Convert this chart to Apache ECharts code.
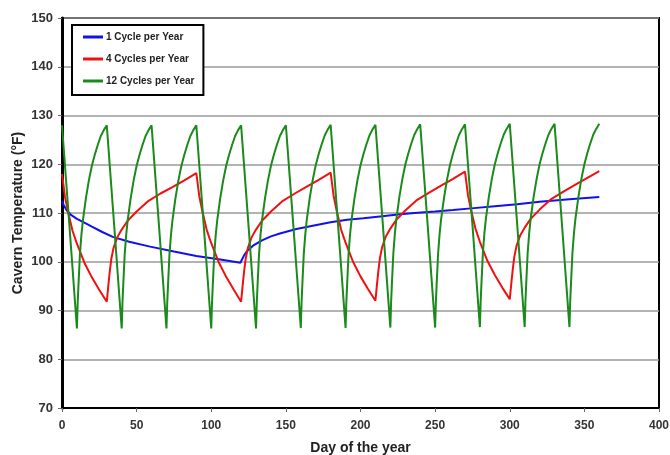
<!DOCTYPE html>
<html>
<head>
<meta charset="utf-8">
<script src="https://cdn.jsdelivr.net/npm/echarts@6/dist/echarts.min.js"></script>
<style>
  html, body { margin: 0; padding: 0; background: #fff; }
  #chart { width: 670px; height: 455px; }
</style>
</head>
<body>
<div id="chart"></div>
<script>
// series names as in the legend
const seriesNames = ['1 Cycle per Year', '4 Cycles per Year', '12 Cycles per Year']

// [day, temperature °F]
const oneCycle = [
  [0, 112.5], [1, 111.7], [3, 110.6], [6, 109.6], [10, 108.8], [14, 108.2],
  [20, 107.2], [27, 106.1], [34, 105.1], [45, 104.1], [59, 103.1], [75, 102.1],
  [90, 101.2], [105, 100.5], [119.5, 99.8], [120.5, 100.1], [122, 101.3],
  [124, 102.2], [128, 103.3], [134, 104.4], [140, 105.2], [146, 105.8],
  [157, 106.7], [168, 107.4], [180, 108.1], [191, 108.6], [202, 108.9],
  [213, 109.3], [225, 109.7], [236, 110.0], [250, 110.3], [262, 110.6],
  [276, 111.0], [290, 111.4], [305, 111.8], [320, 112.3], [340, 112.8], [360, 113.3]
]

const fourCycles = [
  [0, 118], [2, 113.3], [4, 110.3], [7, 106.4], [10, 103.7], [15, 99.8], [20, 96.8], [25, 94.2], [30, 91.8],
  [31, 95], [32, 98], [33, 100.5], [34.5, 102.8], [37, 105], [40, 106.6], [44, 108.4], [50, 110.3],
  [58, 112.5], [66, 114], [74, 115.3], [82, 116.7],
  [90, 118.2], [92, 113.4], [94, 110.4], [97, 106.5], [100, 103.8], [105, 99.9], [110, 96.9], [115, 94.3], [120, 91.8],
  [121, 95], [122, 98], [123, 100.5], [124.5, 102.8], [127, 105], [130, 106.6], [134, 108.4], [140, 110.3],
  [148, 112.5], [156, 114], [164, 115.4], [172, 116.8],
  [180, 118.3], [182, 113.5], [184, 110.5], [187, 106.6], [190, 103.9], [195, 100], [200, 97], [205, 94.4], [210, 92],
  [211, 95.2], [212, 98.2], [213, 100.7], [214.5, 103], [217, 105.2], [220, 106.8], [224, 108.6], [230, 110.5],
  [238, 112.7], [246, 114.2], [254, 115.6], [262, 117],
  [270, 118.5], [272, 113.7], [274, 110.7], [277, 106.8], [280, 104.1], [285, 100.2], [290, 97.3], [295, 94.7], [300, 92.3],
  [301, 95.4], [302, 98.4], [303, 100.9], [304.5, 103.2], [307, 105.4], [310, 107], [314, 108.8], [320, 110.7],
  [328, 112.9], [336, 114.4], [344, 115.8], [352, 117.2], [360, 118.6]
]

const twelveCycles = [
  [0, 128], [5, 107.3], [10, 86.3], [10.5, 91.5], [11, 95], [12, 101.5], [13, 105.5], [14, 108.5], [16, 113], [18, 116.7], [20, 119.7], [22, 122], [24, 124], [26, 125.8], [28, 127],
  [30, 128], [35, 107.3], [40, 86.3], [40.5, 91.5], [41, 95], [42, 101.5], [43, 105.5], [44, 108.5], [46, 113], [48, 116.7], [50, 119.7], [52, 122], [54, 124], [56, 125.8], [58, 127],
  [60, 128], [65, 107.3], [70, 86.3], [70.5, 91.5], [71, 95], [72, 101.5], [73, 105.5], [74, 108.5], [76, 113], [78, 116.7], [80, 119.7], [82, 122], [84, 124], [86, 125.8], [88, 127],
  [90, 128], [95, 107.3], [100, 86.3], [100.5, 91.5], [101, 95], [102, 101.5], [103, 105.5], [104, 108.5], [106, 113], [108, 116.7], [110, 119.7], [112, 122], [114, 124], [116, 125.8], [118, 127],
  [120, 128], [125, 107.3], [130, 86.3], [130.5, 91.5], [131, 95], [132, 101.5], [133, 105.5], [134, 108.5], [136, 113], [138, 116.7], [140, 119.7], [142, 122], [144, 124], [146, 125.8], [148, 127],
  [150, 128], [155, 107.4], [160, 86.4], [160.5, 91.6], [161, 95.1], [162, 101.6], [163, 105.6], [164, 108.6], [166, 113.1], [168, 116.8], [170, 119.8], [172, 122.1], [174, 124.1], [176, 125.9], [178, 127.1],
  [180, 128.1], [185, 107.4], [190, 86.4], [190.5, 91.6], [191, 95.1], [192, 101.6], [193, 105.6], [194, 108.6], [196, 113.1], [198, 116.8], [200, 119.8], [202, 122.1], [204, 124.1], [206, 125.9], [208, 127.1],
  [210, 128.1], [215, 107.5], [220, 86.5], [220.5, 91.7], [221, 95.2], [222, 101.7], [223, 105.7], [224, 108.7], [226, 113.2], [228, 116.9], [230, 119.9], [232, 122.2], [234, 124.2], [236, 126], [238, 127.2],
  [240, 128.2], [245, 107.5], [250, 86.5], [250.5, 91.7], [251, 95.2], [252, 101.7], [253, 105.7], [254, 108.7], [256, 113.2], [258, 116.9], [260, 119.9], [262, 122.2], [264, 124.2], [266, 126], [268, 127.2],
  [270, 128.2], [275, 107.6], [280, 86.6], [280.5, 91.8], [281, 95.3], [282, 101.8], [283, 105.8], [284, 108.8], [286, 113.3], [288, 117], [290, 120], [292, 122.3], [294, 124.3], [296, 126.1], [298, 127.3],
  [300, 128.3], [305, 107.6], [310, 86.6], [310.5, 91.8], [311, 95.3], [312, 101.8], [313, 105.8], [314, 108.8], [316, 113.3], [318, 117], [320, 120], [322, 122.3], [324, 124.3], [326, 126.1], [328, 127.3],
  [330, 128.3], [335, 107.6], [340, 86.6], [340.5, 91.8], [341, 95.3], [342, 101.8], [343, 105.8], [344, 108.8], [346, 113.3], [348, 117], [350, 120], [352, 122.3], [354, 124.3], [356, 126.1], [358, 127.3],
  [360, 128.3]
]

const seriesColors = ['#1010f0', '#f01010', '#1a8a1a']

const chart = echarts.init(document.getElementById('chart'))

const font = 'Liberation Sans, Arial, sans-serif'

const option = {
  animation: false,
  backgroundColor: '#fff',
  grid: {
    left: 62,
    right: 11,
    top: 18,
    bottom: 47,
    outerBoundsMode: 'none',
    show: true,
    borderColor: '#000',
    borderWidth: 2,
    backgroundColor: '#fff'
  },
  legend: {
    orient: 'vertical',
    left: 72,
    top: 25,
    padding: [6, 9, 8, 11],
    itemGap: 10,
    itemWidth: 20,
    itemHeight: 3,
    icon: 'rect',
    borderColor: '#000',
    borderWidth: 2,
    backgroundColor: '#fff',
    data: seriesNames,
    textStyle: { fontFamily: font, fontWeight: 'bold', fontSize: 10, lineHeight: 12, color: '#222', padding: [0, 0, 0, -2] }
  },
  xAxis: {
    type: 'value',
    min: 0,
    max: 400,
    interval: 50,
    name: 'Day of the year',
    nameLocation: 'middle',
    nameGap: 33,
    nameTextStyle: { fontFamily: font, fontWeight: 'bold', fontSize: 14, color: '#222' },
    axisLine: { lineStyle: { color: '#000', width: 2 } },
    axisTick: { show: true, length: 4, lineStyle: { color: '#666' } },
    axisLabel: { fontFamily: font, fontWeight: 'bold', fontSize: 12, color: '#333', margin: 12 },
    splitLine: { show: false }
  },
  yAxis: {
    type: 'value',
    min: 70,
    max: 150,
    interval: 10,
    name: 'Cavern Temperature (°F)',
    nameLocation: 'middle',
    nameGap: 37,
    nameMoveOverlap: false,
    nameTextStyle: { fontFamily: font, fontWeight: 'bold', fontSize: 14, color: '#222' },
    axisLine: { show: true, lineStyle: { color: '#000', width: 3 } },
    axisTick: { show: true, length: 4, lineStyle: { color: '#666' } },
    axisLabel: { fontFamily: font, fontWeight: 'bold', fontSize: 13, color: '#333', margin: 9 },
    splitLine: { lineStyle: { color: '#9a9a9a', width: 1.5 } }
  },
  series: [oneCycle, fourCycles, twelveCycles].map((data, i) => ({
    name: seriesNames[i],
    type: 'line',
    data: data,
    showSymbol: false,
    symbol: 'none',
    lineStyle: { color: seriesColors[i], width: 2 },
    itemStyle: { color: seriesColors[i] }
  }))
}

chart.setOption(option)
</script>
</body>
</html>
